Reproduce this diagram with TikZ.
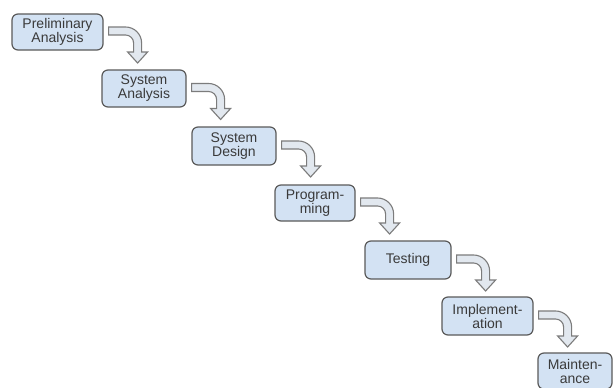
\documentclass[tikz,border=0pt]{standalone}
\usepackage{fontspec}
\setmainfont{Liberation Sans}
\usetikzlibrary{calc}
\definecolor{boxfill}{HTML}{D3E2F3}
\definecolor{boxdraw}{HTML}{5A5A5A}
\definecolor{txt}{HTML}{3A3A3A}
\definecolor{arrfill}{HTML}{E2E8EF}
\definecolor{arrdraw}{HTML}{7C7C7C}
\tikzset{
  stage/.style={draw=boxdraw, fill=boxfill, line width=1.2pt, rounded corners=6pt,
    text=txt, align=center, inner sep=0pt, font=\fontsize{14}{14}\selectfont},
  bentarrow/.pic={
    \path[draw=arrdraw, fill=arrfill, line width=1.1pt, line join=miter]
      (0,-4) -- (17,-4) .. controls (25.8,-4) and (33,3.2) .. (33,12)
      -- (33,21) -- (39,21) -- (29,32) -- (19,21) -- (25,21) -- (25,12)
      .. controls (25,7.6) and (21.4,4) .. (17,4) -- (0,4) -- cycle;
  }
}
\begin{document}
\begin{tikzpicture}[x=1pt,y=-1pt]
\useasboundingbox[fill=white] (0,0) rectangle (613,388);
\node[stage, minimum width=91pt, minimum height=36pt] (n1) at (57.5,32) {Preliminary\\Analysis};
\node[stage, minimum width=84pt, minimum height=37pt] (n2) at (144,88.5) {System\\Analysis};
\node[stage, minimum width=84pt, minimum height=38pt] (n3) at (234,146) {System\\Design};
\node[stage, minimum width=80pt, minimum height=36pt] (n4) at (315,203) {Program-\\ming};
\node[stage, minimum width=86pt, minimum height=38pt] (n5) at (408,260) {Testing};
\node[stage, minimum width=91pt, minimum height=38pt] (n6) at (487.5,316) {Implement-\\ation};
\node[stage, minimum width=74pt, minimum height=36pt] (n7) at (575,371) {Mainten-\\ance};
\foreach \a in {1,...,6}{
  \pic at ($(n\a.east)+(5,-1)$) {bentarrow};
}
\end{tikzpicture}
\end{document}
